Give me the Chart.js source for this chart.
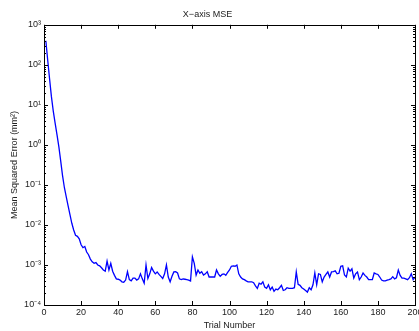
<!DOCTYPE html>
<html>
<head>
<meta charset="utf-8">
<script src="https://cdn.jsdelivr.net/npm/chart.js@4/dist/chart.umd.min.js"></script>
<style>
  body { margin: 0; background: #fff; }
  #wrap { width: 419px; height: 331px; }
</style>
</head>
<body>
<div id="wrap"><canvas id="mse" width="419" height="331"></canvas></div>
<script>
// chart values
const chartTitle = 'X\u2212axis MSE';
const xTitle = 'Trial Number';
const yTitle = 'Mean Squared Error (mm\u00b2)';
const xTicks = [0, 20, 40, 60, 80, 100, 120, 140, 160, 180, 200];
const yDecades = [-4, -3, -2, -1, 0, 1, 2, 3];

// MSE per trial, trials 1..200
const mse = [
  400, 130, 45, 16, 7, 3.5, 1.8, 0.9, 0.4, 0.17,
  0.085, 0.05, 0.03, 0.018, 0.011, 0.0075, 0.0055, 0.0052, 0.0045, 0.0032,
  0.0027, 0.0029, 0.0021, 0.0018, 0.0014, 0.0012, 0.0011, 0.00115, 0.001, 0.00095,
  0.00085, 0.00075, 0.0007, 0.00125, 0.00075, 0.0011, 0.0007, 0.00055, 0.00045, 0.00044,
  0.00042, 0.00038, 0.00037, 0.00042, 0.00068, 0.00043, 0.0004, 0.00047, 0.00047, 0.00042,
  0.00045, 0.0006, 0.00045, 0.00035, 0.001, 0.00046, 0.0006, 0.00086, 0.0007, 0.0006,
  0.00067, 0.00058, 0.00052, 0.00046, 0.0006, 0.001, 0.0005, 0.00038, 0.00052, 0.00067,
  0.00068, 0.00063, 0.00045, 0.00043, 0.00045, 0.00044, 0.00043, 0.00042, 0.0004, 0.0016,
  0.0011, 0.00056, 0.00075, 0.00062, 0.00068, 0.00056, 0.0006, 0.00068, 0.0005, 0.0005,
  0.0005, 0.0005, 0.00075, 0.0006, 0.00052, 0.00058, 0.0006, 0.00055, 0.00065, 0.00075,
  0.00093, 0.00095, 0.00093, 0.001, 0.0006, 0.0005, 0.00045, 0.00043, 0.0004, 0.00038,
  0.00038, 0.00038, 0.00036, 0.0003, 0.00026, 0.00035, 0.00033, 0.00038, 0.00028, 0.00026,
  0.00032, 0.00024, 0.00028, 0.00022, 0.00025, 0.00024, 0.00027, 0.00031, 0.00023, 0.00024,
  0.00027, 0.00026, 0.00026, 0.00026, 0.00027, 0.00067, 0.00033, 0.00031, 0.00027, 0.00025,
  0.00023, 0.00021, 0.00027, 0.00024, 0.00032, 0.00063, 0.00032, 0.0006, 0.00058, 0.00038,
  0.0005, 0.00058, 0.00067, 0.0005, 0.00067, 0.00068, 0.00071, 0.0006, 0.00062, 0.00093,
  0.00095, 0.00056, 0.0005, 0.00083, 0.0007, 0.0008, 0.00047, 0.0006, 0.00067, 0.00043,
  0.0005, 0.00063, 0.00055, 0.0005, 0.00043, 0.00043, 0.00043, 0.00063, 0.0006, 0.00058,
  0.0005, 0.00042, 0.0004, 0.0004, 0.00042, 0.00043, 0.00045, 0.00051, 0.00045, 0.00048,
  0.00075, 0.00055, 0.00047, 0.00047, 0.00045, 0.00043, 0.00048, 0.0006, 0.00043, 0.0005
];
const trials = mse.map((_, i) => i + 1);

const textColor = '#222';
const font = { family: "'Liberation Sans', Arial, sans-serif", size: 9 };

const SUP = { '-': '\u207b', '0': '\u2070', '1': '\u00b9', '2': '\u00b2', '3': '\u00b3', '4': '\u2074' };
const supText = n => String(n).split('').map(c => SUP[c]).join('');

// MATLAB style box with inward ticks
const boxTicks = {
    id: 'boxTicks',
    afterDatasetsDraw(chart) {
        const { ctx, chartArea: a, scales } = chart;
        ctx.save();
        ctx.strokeStyle = '#000';
        ctx.lineWidth = 1;
        ctx.beginPath();
        scales.x.ticks.forEach(t => {
            const px = Math.round(scales.x.getPixelForValue(t.value)) + 0.5;
            ctx.moveTo(px, a.bottom); ctx.lineTo(px, a.bottom - 4);
            ctx.moveTo(px, a.top); ctx.lineTo(px, a.top + 4);
        });
        scales.y.ticks.forEach(t => {
            const py = Math.round(scales.y.getPixelForValue(t.value)) + 0.5;
            const len = t.major ? 4 : 2;
            ctx.moveTo(a.left, py); ctx.lineTo(a.left + len, py);
            ctx.moveTo(a.right, py); ctx.lineTo(a.right - len, py);
        });
        ctx.stroke();
        ctx.strokeRect(Math.round(a.left) + 0.5, Math.round(a.top) + 0.5,
            Math.round(a.right - a.left), Math.round(a.bottom - a.top));
        ctx.restore();
    }
};

new Chart(document.getElementById('mse').getContext('2d'), {
    type: 'line',
    data: {
        datasets: [{
            data: trials.map((t, i) => ({ x: t, y: mse[i] })),
            borderColor: '#0000ff',
            borderWidth: 1.3,
            pointRadius: 0,
            tension: 0,
            fill: false
        }]
    },
    options: {
        responsive: false,
        animation: false,
        layout: { padding: { top: 0, right: 4, bottom: 0, left: 0 } },
        plugins: {
            legend: { display: false },
            tooltip: { enabled: false },
            title: {
                display: true,
                text: chartTitle,
                color: textColor,
                font: { ...font, weight: 'normal' },
                padding: { top: 9, bottom: 5 }
            }
        },
        scales: {
            x: {
                type: 'linear',
                min: 0,
                max: 200,
                grid: { display: false, drawTicks: false },
                border: { display: false },
                afterBuildTicks: s => { s.ticks = xTicks.map(v => ({ value: v })); },
                ticks: { color: textColor, font: font, padding: 2, maxRotation: 0, autoSkip: false },
                title: { display: true, text: xTitle, color: textColor, font: font, padding: { top: 0, bottom: 0 } },
                afterFit: s => { s.height = 26; s.paddingLeft = 0; s.paddingRight = 0; }
            },
            y: {
                type: 'logarithmic',
                min: 1e-4,
                max: 1e3,
                grid: { display: false, drawTicks: false },
                border: { display: false },
                afterBuildTicks: s => {
                    const ticks = [];
                    yDecades.forEach(e => {
                        for (let m = 1; m <= 9; m++) {
                            const v = m * Math.pow(10, e);
                            if (v <= 1e3 * 1.0001) ticks.push({ value: v, major: m === 1 });
                        }
                    });
                    s.ticks = ticks;
                },
                ticks: {
                    color: textColor,
                    font: font,
                    padding: 3,
                    autoSkip: false,
                    callback: v => {
                        const e = Math.round(Math.log10(v));
                        return Math.abs(v / Math.pow(10, e) - 1) < 1e-6 ? '10' + supText(e) : '';
                    }
                },
                title: { display: true, text: yTitle, color: textColor, font: font, padding: { top: 9, bottom: 0 } },
                afterFit: s => { s.width = 44; s.paddingTop = 0; s.paddingBottom = 0; }
            }
        }
    },
    plugins: [boxTicks]
});
</script>
</body>
</html>
